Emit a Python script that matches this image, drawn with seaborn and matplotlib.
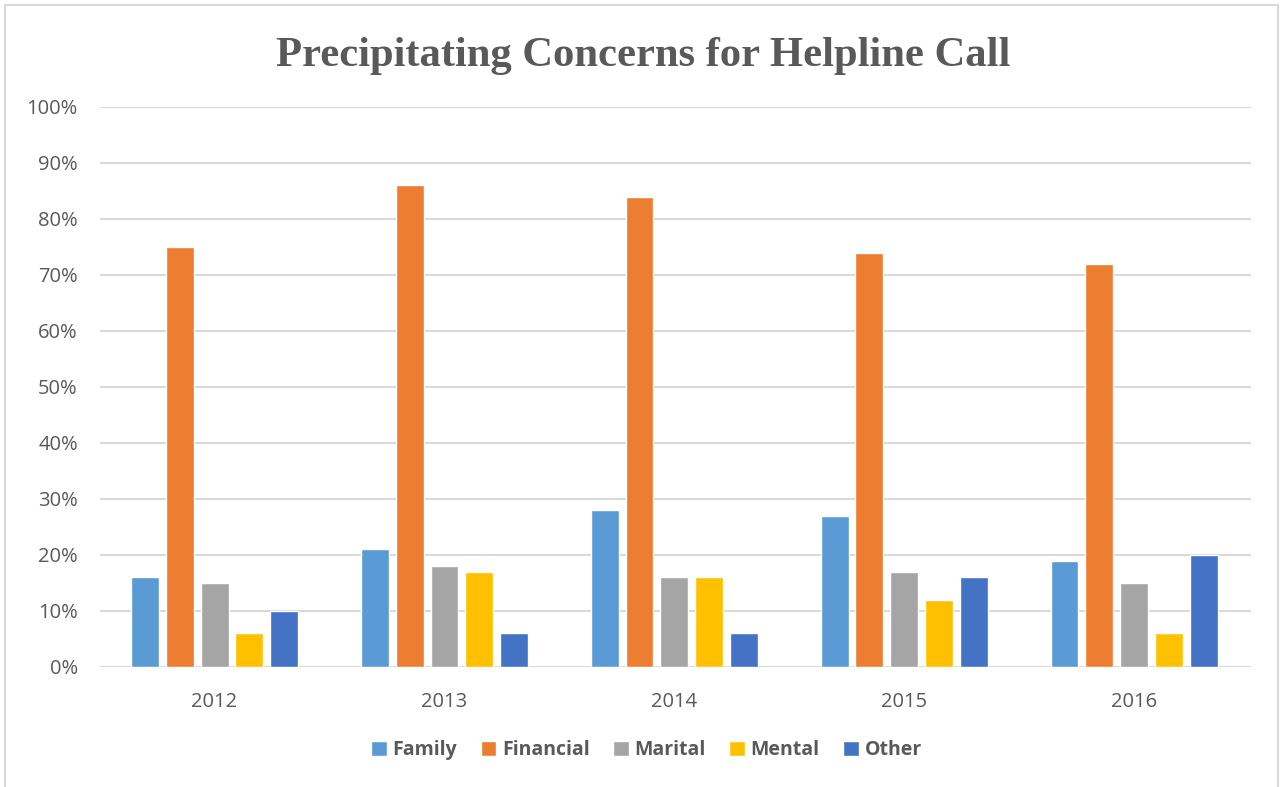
import seaborn as sns
import matplotlib.pyplot as plt
import pandas as pd
from matplotlib.patches import Rectangle
from matplotlib.ticker import PercentFormatter

years = ['2012', '2013', '2014', '2015', '2016']
concerns = ['Family', 'Financial', 'Marital', 'Mental', 'Other']
family = [16, 21, 28, 27, 19]
financial = [75, 86, 84, 74, 72]
marital = [15, 18, 16, 17, 15]
mental = [6, 17, 16, 12, 6]
other = [10, 6, 6, 16, 20]
colors = ['#5B9BD5', '#ED7D31', '#A5A5A5', '#FFC000', '#4472C4']

series = [family, financial, marital, mental, other]
rows = []
for name, vals in zip(concerns, series):
    for yr, v in zip(years, vals):
        rows.append({'year': yr, 'concern': name, 'pct': v})
df = pd.DataFrame(rows)

sns.set_style('white')
plt.rcParams['font.family'] = ['Open Sans', 'DejaVu Sans']
txt = '#595959'
grid = '#D9D9D9'

fig = plt.figure(figsize=(12.8, 7.87), dpi=100)
ax = fig.add_axes([100 / 1280, 1 - 667 / 787, 1151 / 1280, 560 / 787])

sns.barplot(data=df, x='year', y='pct', hue='concern', hue_order=concerns,
            palette=colors, width=0.76, gap=0.2, saturation=1,
            ax=ax, zorder=3)

ax.set_ylim(0, 100)
ax.set_xlim(-0.498, 4.507)
ax.set_yticks(range(0, 101, 10))
ax.yaxis.set_major_formatter(PercentFormatter(decimals=0))
ax.grid(axis='y', color=grid, linewidth=1.5, zorder=0)
ax.set_axisbelow(True)
for s in ax.spines.values():
    s.set_visible(False)
ax.tick_params(axis='both', length=0, labelsize=14.5, labelcolor=txt)
ax.tick_params(axis='y', pad=16)
ax.tick_params(axis='x', pad=18)
ax.set_xlabel('')
ax.set_ylabel('')

ax.get_legend().remove()
handles, labels = ax.get_legend_handles_labels()
fig.legend(handles, labels, loc='center', bbox_to_anchor=(0.505, 1 - 750 / 787),
           ncol=5, frameon=False, handlelength=0.8, handleheight=0.8,
           handletextpad=0.3, columnspacing=1.2,
           prop={'weight': 'bold', 'size': 14}, labelcolor=txt)

fig.text(643 / 1280, 1 - 56 / 787, 'Precipitating Concerns for Helpline Call',
         ha='center', va='center', fontsize=30.7, fontweight='bold',
         color=txt, family='Liberation Serif')

fig.patches.append(Rectangle((5 / 1280, -0.05), 1273 / 1280, 1.05 - 5 / 787,
                             transform=fig.transFigure, fill=False,
                             edgecolor=grid, linewidth=1.5))

fig.savefig('out.png', dpi=100)
